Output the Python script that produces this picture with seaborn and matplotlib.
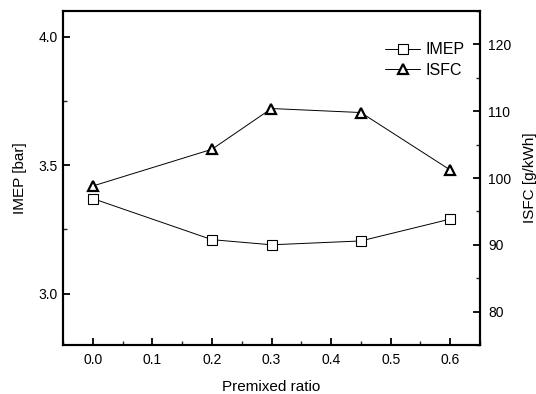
import matplotlib
matplotlib.use("Agg")
import matplotlib.pyplot as plt
import seaborn as sns
import pandas as pd
from matplotlib.ticker import MultipleLocator

ratio = [0.0, 0.2, 0.3, 0.45, 0.6]
imep = [3.37, 3.21, 3.19, 3.205, 3.29]
isfc = [98.8, 104.3, 110.4, 109.8, 101.2]

sns.set_theme(style="ticks")
plt.rcParams['font.family'] = ['Liberation Sans', 'DejaVu Sans']
plt.rcParams['text.color'] = 'black'
plt.rcParams['axes.labelcolor'] = 'black'

df = pd.DataFrame({"ratio": ratio, "imep": imep, "isfc": isfc})

fig = plt.figure(figsize=(5.36, 3.94), dpi=100)
ax = fig.add_axes([63/536, 1 - 345/394, (480-63)/536, (345-11)/394])
ax2 = ax.twinx()

sns.lineplot(data=df, x="ratio", y="imep", ax=ax, color="black", lw=0.7,
             marker="s", markersize=7, markerfacecolor="white",
             markeredgecolor="black", markeredgewidth=0.8, label="IMEP", legend=False)
sns.lineplot(data=df, x="ratio", y="isfc", ax=ax2, color="black", lw=0.7,
             marker="^", markersize=7, markerfacecolor="white",
             markeredgecolor="black", markeredgewidth=1.6, label="ISFC", legend=False)

ax.set_xlim(-0.05, 0.65)
ax.set_ylim(2.8, 4.1)
ax2.set_ylim(75, 125)
ax.xaxis.set_major_locator(MultipleLocator(0.1))
ax.xaxis.set_minor_locator(MultipleLocator(0.05))
ax.yaxis.set_major_locator(MultipleLocator(0.5))
ax.yaxis.set_minor_locator(MultipleLocator(0.25))
ax2.yaxis.set_major_locator(MultipleLocator(10))
ax2.yaxis.set_minor_locator(MultipleLocator(5))

for a in (ax, ax2):
    for s in a.spines.values():
        s.set_linewidth(1.5)
        s.set_color("black")
    a.tick_params(which="major", direction="in", length=5, width=1.3, labelsize=10,
                  colors="black", labelcolor="black")
    a.tick_params(which="minor", direction="in", length=3, width=1.0)
ax.tick_params(axis="x", pad=6)
ax.tick_params(axis="y", pad=4)
ax2.tick_params(axis="y", pad=6)

ax.set_xlabel("Premixed ratio", fontsize=11, labelpad=9, color="black")
ax.set_ylabel("IMEP [bar]", fontsize=11, labelpad=8, color="black")
ax2.set_ylabel("ISFC [g/kWh]", fontsize=11, labelpad=8, color="black")

h1, l1 = ax.get_legend_handles_labels()
h2, l2 = ax2.get_legend_handles_labels()
ax2.legend(h1 + h2, l1 + l2, loc="upper right", bbox_to_anchor=(0.985, 0.935),
           frameon=False, fontsize=11.5, handlelength=2.2, handletextpad=0.3,
           labelspacing=0.35, borderaxespad=0.2)

fig.savefig("out.png", dpi=100)
